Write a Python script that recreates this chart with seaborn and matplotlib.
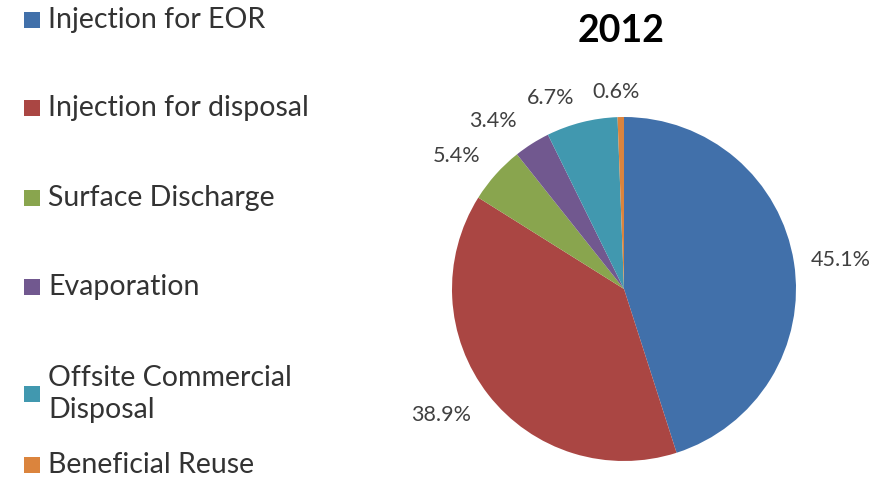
import matplotlib
matplotlib.use("Agg")
import matplotlib.pyplot as plt
import seaborn as sns
import numpy as np
from matplotlib.patches import Rectangle

categories = ["Injection for EOR", "Injection for disposal", "Surface Discharge",
              "Evaporation", "Offsite Commercial\nDisposal", "Beneficial Reuse"]
values = [45.1, 38.9, 5.4, 3.4, 6.7, 0.6]
pct_labels = ["45.1%", "38.9%", "5.4%", "3.4%", "6.7%", "0.6%"]
title = "2012"

colors = ["#4170AA", "#AA4643", "#89A54E", "#71588F", "#4198AF", "#DB843D"]
# label placement (style): radial distance and angular offset from wedge middle
label_dist = [1.273, 1.288, 1.245, 1.24, 1.19, 1.146]
label_dang = [-1.2, -3.3, 3.4, 5.6, 6.7, 1.3]

sns.set_theme(style="white")
plt.rcParams['font.family'] = ['Lato', 'DejaVu Sans']

W, H = 894, 482
fig = plt.figure(figsize=(W / 100, H / 100), dpi=100)
cx, cy, r = 624, 289, 172
ax = fig.add_axes([(cx - r) / W, (H - cy - r) / H, 2 * r / W, 2 * r / H])
wedges, _ = ax.pie(values, colors=colors, startangle=90, counterclock=False,
                   wedgeprops=dict(linewidth=0))
ax.set_xlim(-1, 1)
ax.set_ylim(-1, 1)
ax.set_aspect('equal')
ax.axis('off')

for w, lab, d, da in zip(wedges, pct_labels, label_dist, label_dang):
    ang = np.deg2rad((w.theta1 + w.theta2) / 2 + da)
    ax.text(d * np.cos(ang), d * np.sin(ang), lab, ha='center', va='center',
            fontsize=15.5, color='#404040', clip_on=False)

fig.text(621 / W, 1 - 31 / H, title, ha='center', va='center', fontsize=27,
         fontweight='bold', color='black')

# legend
leg_y = [20, 108, 198, 287, 394, 465]
for lab, col, y in zip(categories, colors, leg_y):
    fig.patches.append(Rectangle((24 / W, 1 - (y + 8) / H), 16 / W, 16 / H,
                                 transform=fig.transFigure, facecolor=col,
                                 edgecolor='none'))
    fig.text(48 / W, 1 - y / H, lab, ha='left', va='center', fontsize=20.5,
             color='#333333', linespacing=1.27)

fig.savefig("out.png", dpi=100)
